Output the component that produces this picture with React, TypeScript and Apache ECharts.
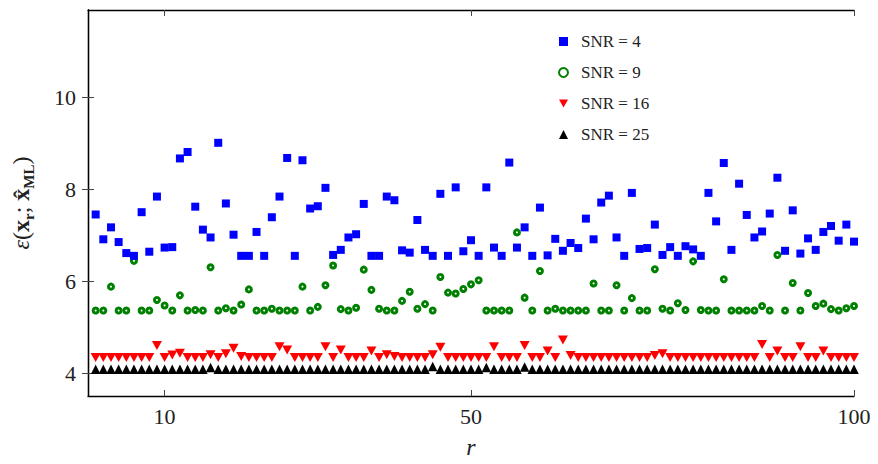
import React, { useEffect, useRef } from "react";
import * as echarts from "echarts";

const rValues = [
  1, 2, 3, 4, 5, 6, 7, 8, 9, 10, 11, 12, 13, 14, 15, 16, 17, 18, 19, 20,
  21, 22, 23, 24, 25, 26, 27, 28, 29, 30, 31, 32, 33, 34, 35, 36, 37, 38, 39, 40,
  41, 42, 43, 44, 45, 46, 47, 48, 49, 50, 51, 52, 53, 54, 55, 56, 57, 58, 59, 60,
  61, 62, 63, 64, 65, 66, 67, 68, 69, 70, 71, 72, 73, 74, 75, 76, 77, 78, 79, 80,
  81, 82, 83, 84, 85, 86, 87, 88, 89, 90, 91, 92, 93, 94, 95, 96, 97, 98, 99, 100,
];

const snr4 = [
  7.45, 6.91, 7.17, 6.85, 6.61, 6.55, 7.5, 6.64, 7.84, 6.73,
  6.74, 8.67, 8.81, 7.62, 7.12, 6.95, 9.01, 7.69, 7.01, 6.55,
  6.55, 7.07, 6.55, 7.39, 7.84, 8.68, 6.55, 8.63, 7.58, 7.63,
  8.03, 6.57, 6.68, 6.95, 7.02, 7.68, 6.55, 6.55, 7.84, 7.76,
  6.67, 6.62, 7.33, 6.68, 6.55, 7.9, 6.55, 8.04, 6.65, 6.89,
  6.55, 8.04, 6.73, 6.55, 8.58, 6.73, 7.17, 6.55, 7.6, 6.56,
  6.92, 6.66, 6.83, 6.72, 7.36, 6.91, 7.71, 7.86, 6.95, 6.55,
  7.92, 6.7, 6.72, 7.23, 6.57, 6.74, 6.55, 6.76, 6.69, 6.55,
  7.92, 7.3, 8.57, 6.68, 8.12, 7.44, 6.95, 7.08, 7.47, 8.25,
  6.66, 7.54, 6.6, 6.93, 6.68, 7.07, 7.2, 6.88, 7.23, 6.86,
];

const snr9 = [
  5.36, 5.36, 5.88, 5.36, 5.36, 6.44, 5.36, 5.36, 5.59, 5.47,
  5.36, 5.69, 5.36, 5.37, 5.36, 6.3, 5.36, 5.41, 5.36, 5.49,
  5.82, 5.36, 5.36, 5.4, 5.36, 5.36, 5.36, 5.88, 5.36, 5.44,
  5.91, 6.34, 5.39, 5.36, 5.42, 6.25, 5.81, 5.4, 5.36, 5.36,
  5.57, 5.77, 5.4, 5.5, 5.36, 6.09, 5.75, 5.73, 5.83, 5.93,
  6.02, 5.36, 5.36, 5.36, 5.36, 7.06, 5.64, 5.36, 6.22, 5.36,
  5.4, 5.36, 5.36, 5.36, 5.36, 5.95, 5.36, 5.36, 5.91, 5.36,
  5.63, 5.36, 5.36, 6.26, 5.4, 5.36, 5.52, 5.37, 6.43, 5.37,
  5.36, 5.36, 6.04, 5.36, 5.36, 5.36, 5.36, 5.46, 5.36, 6.57,
  5.36, 5.96, 5.36, 5.74, 5.46, 5.51, 5.39, 5.36, 5.41, 5.46,
];

const snr16 = [
  4.34, 4.34, 4.34, 4.34, 4.34, 4.34, 4.34, 4.34, 4.6, 4.34,
  4.39, 4.43, 4.34, 4.34, 4.34, 4.4, 4.34, 4.42, 4.54, 4.36,
  4.34, 4.34, 4.34, 4.34, 4.57, 4.5, 4.34, 4.34, 4.34, 4.34,
  4.57, 4.34, 4.5, 4.34, 4.34, 4.34, 4.48, 4.34, 4.4, 4.36,
  4.34, 4.34, 4.34, 4.34, 4.4, 4.56, 4.34, 4.34, 4.34, 4.34,
  4.34, 4.34, 4.57, 4.34, 4.34, 4.34, 4.6, 4.34, 4.34, 4.48,
  4.34, 4.72, 4.38, 4.34, 4.34, 4.34, 4.34, 4.34, 4.34, 4.34,
  4.34, 4.34, 4.34, 4.38, 4.42, 4.34, 4.34, 4.34, 4.34, 4.34,
  4.34, 4.34, 4.34, 4.34, 4.34, 4.34, 4.34, 4.62, 4.34, 4.48,
  4.34, 4.34, 4.57, 4.34, 4.34, 4.48, 4.34, 4.34, 4.34, 4.34,
];

const snr25 = [
  4.08, 4.08, 4.08, 4.08, 4.08, 4.08, 4.08, 4.08, 4.08, 4.08,
  4.08, 4.08, 4.08, 4.08, 4.08, 4.12, 4.08, 4.08, 4.08, 4.08,
  4.08, 4.08, 4.08, 4.08, 4.08, 4.08, 4.08, 4.08, 4.08, 4.08,
  4.08, 4.08, 4.08, 4.08, 4.08, 4.08, 4.08, 4.08, 4.08, 4.08,
  4.08, 4.08, 4.08, 4.08, 4.14, 4.08, 4.08, 4.08, 4.08, 4.08,
  4.08, 4.12, 4.08, 4.08, 4.08, 4.08, 4.13, 4.08, 4.08, 4.08,
  4.08, 4.08, 4.08, 4.08, 4.08, 4.08, 4.08, 4.08, 4.08, 4.08,
  4.08, 4.08, 4.08, 4.08, 4.08, 4.08, 4.08, 4.08, 4.08, 4.08,
  4.08, 4.08, 4.08, 4.08, 4.08, 4.08, 4.08, 4.08, 4.08, 4.08,
  4.08, 4.08, 4.08, 4.08, 4.08, 4.08, 4.08, 4.08, 4.08, 4.08,
];

const seriesNames = ["SNR = 4", "SNR = 9", "SNR = 16", "SNR = 25"];
const xTickValues = [10, 50, 100];
const yTickValues = [4, 6, 8, 10];

const FONT = "'Liberation Serif', 'DejaVu Serif', serif";

export default function App() {
  const ref = useRef<HTMLDivElement>(null);

  useEffect(() => {
    document.body.style.margin = "0";
    if (!ref.current) return;
    const chart = echarts.init(ref.current, undefined, { renderer: "svg" });
    const toPts = (vals: number[]) => rValues.map((r, i) => [r, vals[i]]);

    const axisLine = { show: true, lineStyle: { color: "#000", width: 1.3 } };

    chart.setOption({
      animation: false,
      backgroundColor: "#fff",
      grid: { left: 88, right: 24, top: 10, bottom: 64, containLabel: false },
      legend: {
        orient: "vertical",
        left: 553,
        top: 28,
        itemWidth: 9,
        itemHeight: 9,
        itemGap: 14,
        data: [
          { name: seriesNames[0] },
          { name: seriesNames[1] },
          { name: seriesNames[2], symbolRotate: 180, icon: "path://M0,0 L10,0 L5,9 Z" },
          { name: seriesNames[3] },
        ],
        textStyle: {
          fontFamily: FONT,
          fontSize: 17,
          color: "#222",
          padding: [0, 0, 0, 8],
        },
      },
      xAxis: [
        {
          type: "value",
          min: 0,
          max: 100,
          position: "bottom",
          axisLine,
          splitLine: { show: false },
          axisTick: { show: true, inside: true, length: 6, customValues: xTickValues, lineStyle: { color: "#444" } },
          axisLabel: {
            show: true,
            customValues: xTickValues,
            margin: 9,
            fontFamily: FONT,
            fontSize: 22,
            color: "#222",
          },
          name: "r",
          nameLocation: "middle",
          nameGap: 39,
          nameTextStyle: { fontFamily: FONT, fontStyle: "italic", fontSize: 24, color: "#222" },
        },
        {
          type: "value",
          min: 0,
          max: 100,
          position: "top",
          axisLine,
          splitLine: { show: false },
          axisTick: { show: true, inside: true, length: 6, customValues: xTickValues, lineStyle: { color: "#444" } },
          axisLabel: { show: false },
        },
      ],
      yAxis: [
        {
          type: "value",
          min: 3.5,
          max: 11.9,
          position: "left",
          axisLine,
          splitLine: { show: false },
          axisTick: { show: true, inside: true, length: 6, customValues: yTickValues, lineStyle: { color: "#444" } },
          axisLabel: {
            show: true,
            customValues: yTickValues,
            margin: 12,
            fontFamily: FONT,
            fontSize: 22,
            color: "#222",
          },
          name: "{e|ε}{n|(}{b|x}{s|r}{n|; }{b|x̂}{s|ML}{n|)}",
          nameLocation: "middle",
          nameRotate: 90,
          nameGap: 52,
          nameTextStyle: {
            fontFamily: FONT,
            fontSize: 24,
            color: "#222",
            rich: {
              e: { fontFamily: FONT, fontSize: 24, fontStyle: "italic", color: "#222", lineHeight: 30 },
              n: { fontFamily: FONT, fontSize: 24, color: "#222", lineHeight: 30 },
              b: { fontFamily: FONT, fontSize: 24, fontWeight: "bold", color: "#222", lineHeight: 30 },
              s: { fontFamily: FONT, fontSize: 15, fontWeight: "bold", color: "#222", lineHeight: 14, verticalAlign: "bottom" },
            },
          },
        },
        {
          type: "value",
          min: 3.5,
          max: 11.9,
          position: "right",
          axisLine,
          splitLine: { show: false },
          axisTick: { show: true, inside: true, length: 6, customValues: yTickValues, lineStyle: { color: "#444" } },
          axisLabel: { show: false },
        },
      ],
      series: [
        {
          name: seriesNames[0],
          type: "scatter",
          symbol: "rect",
          symbolSize: 8,
          itemStyle: { color: "#0000ff", opacity: 1 },
          data: toPts(snr4),
          z: 4,
        },
        {
          name: seriesNames[1],
          type: "scatter",
          symbol: "circle",
          symbolSize: 5,
          itemStyle: { color: "#ffffff", borderColor: "#008000", borderWidth: 3, opacity: 1 },
          data: toPts(snr9),
          z: 3,
        },
        {
          name: seriesNames[2],
          type: "scatter",
          symbol: "triangle",
          symbolRotate: 180,
          symbolSize: [10, 9],
          itemStyle: { color: "#ff0000", opacity: 1 },
          data: toPts(snr16),
          z: 2,
        },
        {
          name: seriesNames[3],
          type: "scatter",
          symbol: "triangle",
          symbolSize: [9.5, 9.5],
          itemStyle: { color: "#000000", opacity: 1 },
          data: toPts(snr25),
          z: 1,
        },
      ],
    });

    return () => chart.dispose();
  }, []);

  return <div ref={ref} style={{ width: 878, height: 464 }} />;
}
